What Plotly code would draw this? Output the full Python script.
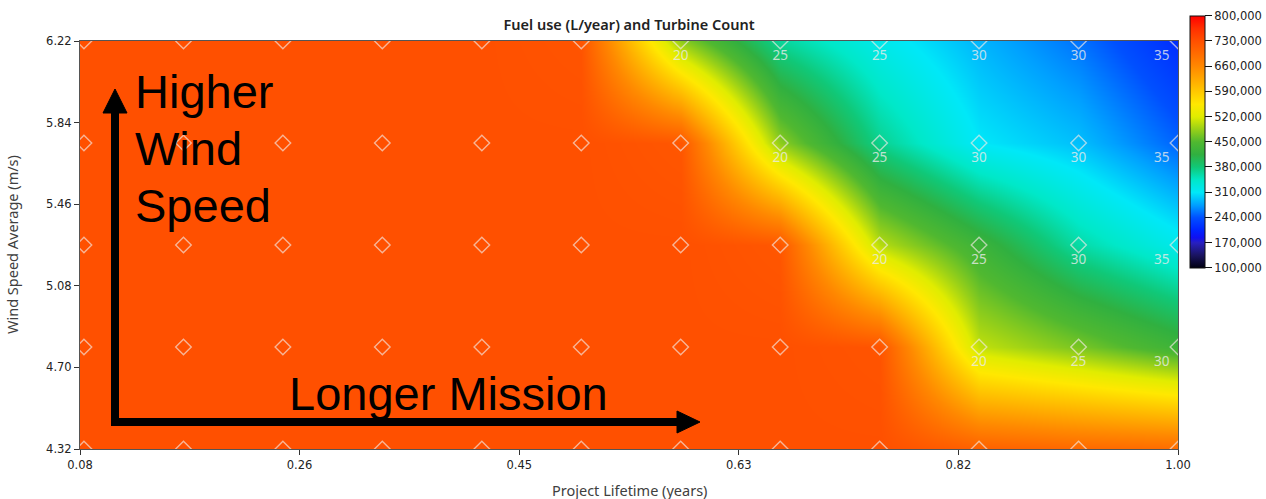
import plotly.graph_objects as go

# ---------------- data ----------------
project_lifetime = [0.0833, 0.1667, 0.25, 0.3333, 0.4167, 0.5, 0.5833, 0.6667, 0.75, 0.8333, 0.9167, 1.0]
wind_speed = [4.32, 4.795, 5.27, 5.745, 6.22]

# fuel use (L/year), rows follow wind_speed (bottom -> top)
fuel_ws_432 = [730000, 730000, 730000, 730000, 730000, 730000, 730000, 730000, 730000, 710000, 700000, 695000]
fuel_ws_480 = [730000, 730000, 730000, 730000, 730000, 730000, 730000, 730000, 725000, 505000, 470000, 430000]
fuel_ws_527 = [730000, 730000, 730000, 730000, 730000, 730000, 730000, 722000, 500000, 430000, 360000, 320000]
fuel_ws_575 = [730000, 730000, 730000, 730000, 730000, 730000, 722000, 480000, 370000, 310000, 290000, 248000]
fuel_ws_622 = [730000, 730000, 730000, 730000, 730000, 725000, 480000, 365000, 320000, 285000, 255000, 212000]

# turbine count (None = no turbines)
turb_ws_432 = [None] * 12
turb_ws_480 = [None, None, None, None, None, None, None, None, None, 20, 25, 30]
turb_ws_527 = [None, None, None, None, None, None, None, None, 20, 25, 30, 35]
turb_ws_575 = [None, None, None, None, None, None, None, 20, 25, 30, 30, 35]
turb_ws_622 = [None, None, None, None, None, None, 20, 25, 25, 30, 30, 35]

x_tick_vals = [0.08, 0.264, 0.448, 0.632, 0.816, 1.0]
x_tick_text = ["0.08", "0.26", "0.45", "0.63", "0.82", "1.00"]
y_tick_vals = [4.32, 4.70, 5.08, 5.46, 5.84, 6.22]
y_tick_text = ["4.32", "4.70", "5.08", "5.46", "5.84", "6.22"]
cb_tick_vals = [100000, 170000, 240000, 310000, 380000, 450000, 520000, 590000, 660000, 730000, 800000]

fuel = [fuel_ws_432, fuel_ws_480, fuel_ws_527, fuel_ws_575, fuel_ws_622]
turbines = [turb_ws_432, turb_ws_480, turb_ws_527, turb_ws_575, turb_ws_622]

# ---------------- styling ----------------
colorscale = [
    [0.00, "#000010"], [0.05, "#1a1460"], [0.10, "#2820c0"], [0.12, "#1010f0"],
    [0.15, "#0024ff"], [0.20, "#0050ff"], [0.25, "#00a0ff"], [0.30, "#00e8f8"],
    [0.35, "#00e8c8"], [0.40, "#10c878"], [0.45, "#30b040"], [0.50, "#50b830"],
    [0.55, "#98d018"], [0.60, "#e0ec00"], [0.65, "#ffe800"], [0.70, "#ffc800"],
    [0.75, "#ffa800"], [0.80, "#ff8800"], [0.85, "#ff6c00"], [0.90, "#ff5000"],
    [0.95, "#ff3000"], [1.00, "#ff0000"],
]

L, R, T, B = 80, 1178, 41, 449
W, H = 1266, 499


def px(xp):
    return (xp - L) / (R - L)


def py(yp):
    return (B - yp) / (B - T)


fig = go.Figure()

fig.add_trace(go.Heatmap(
    x=project_lifetime, y=wind_speed, z=fuel,
    zmin=100000, zmax=800000, zsmooth="best",
    colorscale=colorscale,
    colorbar=dict(
        x=px(1190), xanchor="left", xpad=0, ypad=0,
        y=py(15.7), yanchor="top", len=(268 - 15.7) / (B - T), lenmode="fraction",
        thickness=15, outlinecolor="#111111", outlinewidth=1,
        tickvals=cb_tick_vals, tickformat=",d", ticks="outside", ticklen=7,
        tickcolor="#111111",
        tickfont=dict(family="DejaVu Sans", size=11.5, color="#222222"),
    ),
    hoverinfo="skip",
))

# diamond grid markers with turbine count labels
mx, my, mt, mpos = [], [], [], []
for j, ws in enumerate(wind_speed):
    for i, pl in enumerate(project_lifetime):
        mx.append(pl)
        my.append(ws)
        t = turbines[j][i]
        mt.append("" if t is None else str(t))
        mpos.append("bottom left" if i == len(project_lifetime) - 1 else "bottom center")

fig.add_trace(go.Scatter(
    x=mx, y=my, mode="markers+text", text=mt, textposition=mpos,
    marker=dict(symbol="diamond-open", size=12, color="rgba(245,235,230,0.65)",
                line=dict(width=1.4, color="rgba(245,235,230,0.65)")),
    textfont=dict(family="Noto Sans", size=13.5, color="rgba(235,235,235,0.8)"),
    hoverinfo="skip", showlegend=False,
))

shapes = [
    # vertical arrow shaft
    dict(type="line", xref="paper", yref="paper", x0=px(115), x1=px(115), y0=py(426), y1=py(110),
         line=dict(color="black", width=8)),
    dict(type="path", xref="paper", yref="paper",
         path=f"M {px(103)} {py(113)} L {px(127)} {py(113)} L {px(115)} {py(89)} Z",
         fillcolor="black", line=dict(color="black", width=1)),
    # horizontal arrow shaft
    dict(type="line", xref="paper", yref="paper", x0=px(111), x1=px(680), y0=py(422), y1=py(422),
         line=dict(color="black", width=8)),
    dict(type="path", xref="paper", yref="paper",
         path=f"M {px(677)} {py(411)} L {px(677)} {py(433)} L {px(700)} {py(422)} Z",
         fillcolor="black", line=dict(color="black", width=1)),
]

big_font = dict(family="Liberation Sans", size=47, color="black")
annotations = [
    dict(text="Higher", xref="paper", yref="paper", x=px(133), y=py(91),
         xanchor="left", yanchor="middle", showarrow=False, font=big_font),
    dict(text="Wind", xref="paper", yref="paper", x=px(133), y=py(148),
         xanchor="left", yanchor="middle", showarrow=False, font=big_font),
    dict(text="Speed", xref="paper", yref="paper", x=px(133), y=py(205),
         xanchor="left", yanchor="middle", showarrow=False, font=big_font),
    dict(text="Longer Mission", xref="paper", yref="paper", x=px(448.5), y=py(393),
         xanchor="center", yanchor="middle", showarrow=False, font=big_font),
    dict(text="Project Lifetime (years)", xref="paper", yref="paper", x=px(629), y=py(490),
         xanchor="center", yanchor="middle", showarrow=False,
         font=dict(family="Noto Sans", size=14.5, color="#404040")),
    dict(text="Wind Speed Average (m/s)", xref="paper", yref="paper", x=px(12), y=py(245),
         xanchor="center", yanchor="middle", showarrow=False, textangle=-90,
         font=dict(family="Noto Sans", size=14.5, color="#404040")),
]

fig.update_layout(
    width=W, height=H,
    margin=dict(l=L, r=W - R, t=T, b=H - B, autoexpand=False),
    paper_bgcolor="white", plot_bgcolor="white",
    title=dict(text="Fuel use (L/year) and Turbine Count", x=px(629), xref="paper",
               xanchor="center", y=1 - 25 / H, yanchor="middle",
               font=dict(family="Noto Sans", size=14.5, color="#222222", weight=600)),
    shapes=shapes, annotations=annotations, showlegend=False,
)

fig.update_xaxes(range=[0.08, 1.0], tickvals=x_tick_vals, ticktext=x_tick_text,
                 ticks="outside", ticklen=5, tickcolor="#333333",
                 showline=True, linecolor="#555555", linewidth=1, mirror=True,
                 showgrid=False, zeroline=False, automargin=False,
                 tickfont=dict(family="DejaVu Sans", size=11.5, color="#222222"))
fig.update_yaxes(range=[4.32, 6.22], tickvals=y_tick_vals, ticktext=y_tick_text,
                 ticks="outside", ticklen=5, tickcolor="#333333",
                 showline=True, linecolor="#555555", linewidth=1, mirror=True,
                 showgrid=False, zeroline=False, automargin=False,
                 tickfont=dict(family="DejaVu Sans", size=11.5, color="#222222"))

fig.write_html("out.html", config={"displayModeBar": False},
               post_script="document.body.style.margin='0';document.body.style.overflow='hidden';")
